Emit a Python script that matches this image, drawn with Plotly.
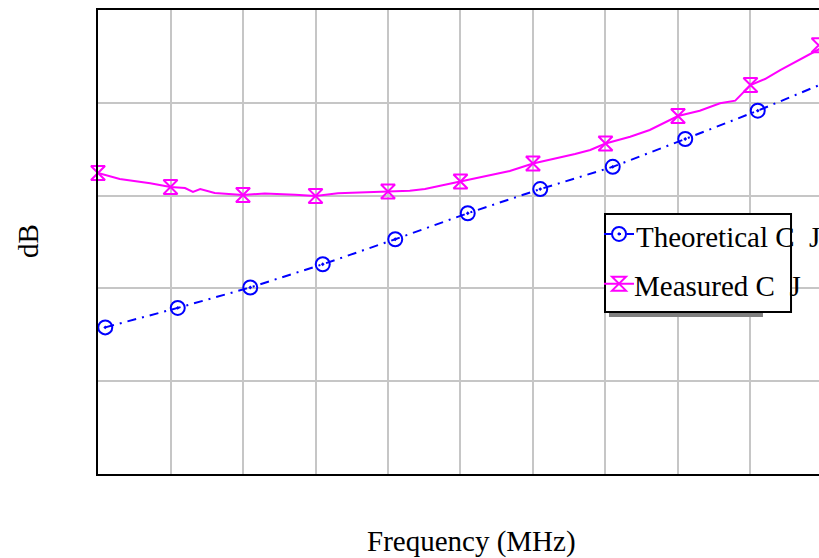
import plotly.graph_objects as go

# ---- data (arbitrary axis units) ----
theo_x = [0.1, 1.1, 2.1, 3.1, 4.1, 5.1, 6.1, 7.1, 8.1, 9.1, 10.1]
theo_y = [1.58, 1.79, 2.01, 2.26, 2.53, 2.81, 3.07, 3.31, 3.61, 3.915, 4.24]

meas_x = [0.0, 0.17, 0.3, 0.72, 1.0, 1.2, 1.31, 1.41, 1.61, 2.0, 2.3, 2.72, 3.0,
          3.31, 3.61, 4.0, 4.3, 4.51, 4.72, 5.0, 5.27, 5.68, 6.0, 6.37, 6.58,
          6.79, 7.0, 7.34, 7.61, 8.0, 8.3, 8.58, 8.79, 9.0, 9.2, 9.41, 9.64, 10.0]
meas_y = [3.244, 3.211, 3.179, 3.134, 3.093, 3.082, 3.04, 3.071, 3.028, 3.006,
          3.023, 3.01, 2.996, 3.025, 3.036, 3.044, 3.053, 3.071, 3.107, 3.152,
          3.197, 3.265, 3.346, 3.408, 3.448, 3.491, 3.561, 3.635, 3.707, 3.858,
          3.915, 3.995, 4.023, 4.192, 4.256, 4.353, 4.45, 4.6]
meas_mark_x = [0, 1, 2, 3, 4, 5, 6, 7, 8, 9, 9.94]
meas_mark_y = [3.244, 3.093, 3.006, 2.996, 3.044, 3.152, 3.346, 3.561, 3.858, 4.192, 4.62]

series_names = ["Theoretical C  J", "Measured C  J"]

FONT = "Liberation Serif"
BLUE = "#0000ff"
MAG = "#ff00ff"

fig = go.Figure()

# legend symbols are drawn by plotly's legend; the label texts overflow the
# frame (as in the original) and are therefore placed as annotations
fig.add_trace(go.Scatter(
    x=theo_x, y=theo_y, mode="lines+markers", name="",
    line=dict(color=BLUE, width=2, dash="9px,6px,2px,6px"),
    marker=dict(symbol="circle-open-dot", size=14, color=BLUE,
                line=dict(color=BLUE, width=2)),
    cliponaxis=False, legendgroup="a"))

fig.add_trace(go.Scatter(
    x=meas_x, y=meas_y, mode="lines", showlegend=False,
    line=dict(color=MAG, width=2), legendgroup="b"))

fig.add_trace(go.Scatter(
    x=meas_mark_x, y=meas_mark_y, mode="markers", showlegend=False,
    marker=dict(symbol="hourglass-open", size=14, color=MAG,
                line=dict(color=MAG, width=2)),
    cliponaxis=False, legendgroup="b"))

fig.add_trace(go.Scatter(
    x=[None], y=[None], mode="lines+markers", name="",
    line=dict(color=MAG, width=2),
    marker=dict(symbol="hourglass-open", size=14, color=MAG,
                line=dict(color=MAG, width=2)),
    legendgroup="b"))

fig.update_layout(
    width=819, height=558,
    margin=dict(l=98, r=0, t=10, b=84),
    paper_bgcolor="white", plot_bgcolor="white",
    font=dict(family=FONT, size=29, color="black"),
    showlegend=True,
    legend=dict(x=0.6949, y=0.572, xanchor="left", yanchor="top",
                bgcolor="rgba(0,0,0,0)", borderwidth=0,
                font=dict(family=FONT, size=29), tracegroupgap=9,
                itemwidth=30),
    xaxis=dict(range=[0, 9.945], dtick=1, tick0=0, showgrid=True,
               gridcolor="#c6c6c6", gridwidth=2, zeroline=False,
               showticklabels=False, ticks="", showline=True,
               linecolor="black", linewidth=2, mirror=True),
    yaxis=dict(range=[0, 5], dtick=1, tick0=0, showgrid=True,
               gridcolor="#c6c6c6", gridwidth=2, zeroline=False,
               showticklabels=False, ticks="", showline=True,
               linecolor="black", linewidth=2, mirror=False),
    shapes=[
        dict(type="rect", xref="paper", yref="paper",
             x0=0.7087, x1=0.9223, y0=0.3384, y1=0.3491,
             fillcolor="#808080", line=dict(width=0), layer="above"),
        dict(type="rect", xref="paper", yref="paper",
             x0=0.7032, x1=0.9612, y0=0.3491, y1=0.5603,
             fillcolor="white", line=dict(color="black", width=2), layer="above"),
    ],
    annotations=[
        dict(text=series_names[0], xref="paper", yref="paper",
             x=0.7440, y=0.5108, xanchor="left", yanchor="middle",
             showarrow=False, font=dict(family=FONT, size=29)),
        dict(text=series_names[1], xref="paper", yref="paper",
             x=0.7412, y=0.4052, xanchor="left", yanchor="middle",
             showarrow=False, font=dict(family=FONT, size=29)),
        dict(text="Frequency (MHz)", xref="paper", yref="paper",
             x=0.5187, y=-0.1444, xanchor="center", yanchor="middle",
             showarrow=False, font=dict(family=FONT, size=29)),
        dict(text="dB", xref="paper", yref="paper",
             x=-0.0971, y=0.502, xanchor="center", yanchor="middle",
             textangle=-90, showarrow=False, font=dict(family=FONT, size=29)),
    ],
)

fig.write_html(
    "out.html",
    config={"displayModeBar": False},
    post_script="document.body.style.margin='0';document.body.style.overflow='hidden';",
)
